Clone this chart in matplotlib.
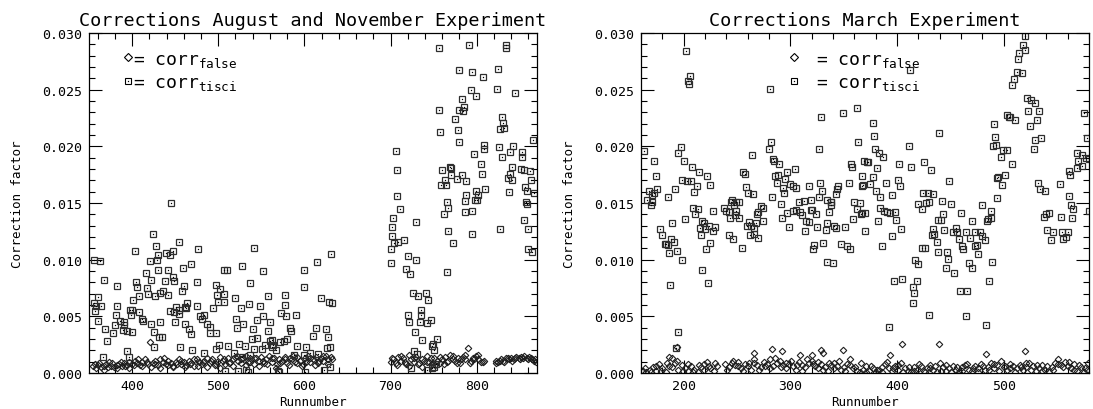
import numpy as np
import matplotlib
matplotlib.use('Agg')
from matplotlib import pyplot as plt
from matplotlib.ticker import MultipleLocator, FormatStrFormatter

plt.rcParams['font.family'] = ['DejaVu Sans Mono', 'DejaVu Sans']

# every row: (runnumber, correction factor in units of 1e-4)
aug_tisci = np.array([
    (445, 150), (424, 123), (428, 112), (454, 116), (403, 108), (430, 104), (421, 99), (429, 100), (439, 106),
    (447, 108), (444, 104), (477, 109), (542, 110), (356, 100), (363, 99), (459, 93), (469, 96), (430, 91),
    (442, 91), (507, 91), (510, 91), (528, 94), (552, 90), (367, 82), (383, 77), (405, 80), (406, 76), (416, 88),
    (422, 82), (438, 81), (448, 85), (449, 81), (460, 77), (475, 80), (537, 79), (498, 78), (417, 75), (401, 64),
    (408, 68), (418, 70), (427, 68), (433, 71), (436, 72), (442, 69), (458, 72), (499, 69), (502, 74), (507, 70),
    (500, 63), (507, 63), (519, 66), (558, 68), (578, 69), (356, 62), (360, 67), (358, 59), (364, 59), (357, 55),
    (360, 46), (383, 59), (398, 56), (399, 51), (381, 51), (386, 46), (391, 45), (391, 42), (380, 42), (378, 35),
    (369, 39), (371, 28), (389, 38), (394, 37), (400, 36), (400, 56), (408, 54), (412, 48), (413, 46), (422, 43),
    (425, 36), (431, 32), (435, 32), (432, 45), (425, 23), (444, 55), (451, 58), (454, 56), (454, 52), (449, 54),
    (450, 45), (461, 58), (461, 43), (466, 39), (469, 34), (456, 23), (464, 62), (463, 57), (475, 59), (479, 50),
    (481, 48), (483, 51), (487, 43), (490, 41), (491, 35), (497, 35), (494, 57), (470, 20), (483, 18), (498, 21),
    (501, 25), (511, 24), (521, 48), (522, 40), (529, 43), (526, 57), (536, 61), (540, 39), (545, 47), (552, 50),
    (549, 59), (560, 45), (558, 37), (524, 26), (531, 24), (539, 30), (541, 21), (545, 31), (551, 21), (554, 25),
    (560, 28), (562, 29), (564, 25), (562, 23), (573, 53), (577, 60), (579, 50), (590, 51), (583, 40), (585, 37),
    (567, 20), (572, 27), (576, 28), (580, 30), (591, 24), (588, 16), (528, 14), (537, 16), (518, 18), (366, 14),
    (394, 19), (396, 14), (600, 91), (600, 76), (615, 98), (631, 105), (619, 66), (629, 63), (632, 62), (613, 40),
    (610, 33), (625, 39), (628, 32), (630, 23), (626, 22), (602, 23), (623, 3), (630, 5), (601, 1), (606, 18),
    (616, 17), (599, 16), (508, 2), (523, 2), (532, 3), (535, 1), (569, 2), (571, 1),
    (756, 287), (791, 289), (834, 287), (834, 289), (779, 267), (794, 266), (807, 261), (825, 268), (793, 250),
    (799, 244), (824, 251), (783, 242), (785, 235), (780, 232), (784, 231), (756, 232), (775, 224), (758, 213),
    (778, 214), (780, 204), (829, 226), (831, 221), (832, 216), (827, 215), (706, 196), (707, 179), (809, 201),
    (808, 198), (826, 199), (842, 200), (797, 193), (829, 191), (839, 195), (805, 184), (806, 176), (760, 179),
    (769, 182), (770, 181), (770, 175), (763, 170), (759, 166), (764, 166), (777, 171), (783, 175), (788, 169),
    (841, 182), (839, 176), (836, 172), (841, 170), (838, 160), (810, 162), (799, 161), (788, 157), (802, 157),
    (800, 153), (798, 153), (787, 152), (766, 151), (767, 146), (762, 140), (786, 142), (795, 143), (708, 156),
    (711, 145), (703, 137), (702, 129), (729, 133), (702, 121), (704, 115), (709, 116), (716, 117), (701, 109),
    (700, 97), (767, 125), (795, 123), (827, 127), (772, 115), (720, 103), (730, 100), (718, 92), (723, 87),
    (765, 89), (726, 71), (732, 68), (741, 71), (744, 64), (735, 56), (735, 51), (720, 51), (722, 45), (734, 45),
    (742, 44), (747, 47), (728, 36), (737, 29), (754, 30), (749, 26), (748, 24), (724, 4), (742, 3), (748, 4),
    (751, 5), (727, 19), (731, 17), (750, 20), (753, 8),
    (845, 247), (865, 206), (853, 195), (853, 191), (851, 180), (855, 179), (862, 178), (863, 170), (856, 164),
    (858, 161), (866, 159), (857, 151), (858, 149), (855, 135), (859, 127), (860, 109), (864, 107),
])

aug_false = np.array([
    (355, 6), (358, 4), (361, 7), (364, 5), (367, 3), (370, 8), (373, 10), (376, 6), (379, 5), (382, 7), (385, 8),
    (388, 6), (391, 9), (394, 7), (397, 10), (400, 8), (403, 11), (406, 9), (409, 7), (412, 10), (415, 12),
    (418, 8), (421, 27), (424, 9), (427, 11), (430, 7), (433, 12), (436, 10), (439, 8), (442, 11), (445, 9),
    (448, 6), (451, 10), (454, 12), (457, 8), (460, 10), (463, 7), (466, 11), (469, 9), (472, 6), (475, 12),
    (478, 10), (481, 8), (484, 11), (487, 13), (490, 9), (493, 12), (496, 7), (499, 10), (502, 14), (505, 11),
    (508, 8), (511, 13), (514, 10), (517, 12), (520, 14), (523, 11), (526, 9), (529, 13), (532, 15), (535, 10),
    (538, 12), (541, 8), (544, 13), (547, 11), (550, 14), (553, 9), (556, 12), (559, 15), (562, 10), (565, 13),
    (568, 8), (571, 12), (574, 11), (577, 14), (580, 9), (583, 13), (586, 12), (589, 10), (592, 14), (595, 11),
    (598, 8), (601, 13), (604, 15), (607, 10), (610, 12), (613, 14), (616, 9), (619, 13), (622, 11), (625, 15),
    (628, 12), (631, 14),
    (357, 8), (362, 9), (367, 6), (372, 5), (377, 9), (382, 4), (387, 10), (392, 6), (397, 4), (402, 7), (407, 12),
    (412, 6), (417, 10), (422, 5), (427, 8), (432, 4), (437, 13), (442, 7), (447, 5), (452, 8), (457, 11),
    (462, 5), (467, 8), (472, 12), (477, 6), (482, 10), (487, 5), (492, 11), (497, 8), (502, 4), (507, 12),
    (512, 9), (517, 6), (522, 15), (527, 12), (532, 7), (537, 10), (542, 13), (547, 6), (552, 11), (557, 8),
    (562, 13), (567, 4), (572, 9), (577, 12), (582, 7), (587, 15), (592, 9), (597, 6), (602, 10), (607, 13),
    (612, 7), (617, 11), (622, 15), (627, 8), (632, 12),
    (700, 10), (703, 12), (706, 9), (709, 14), (712, 11), (715, 13), (718, 8), (721, 16), (724, 12), (727, 10),
    (730, 14), (733, 9), (736, 12), (739, 11), (742, 15), (745, 10), (748, 8), (751, 13), (754, 11), (757, 9),
    (760, 12), (763, 14), (766, 10), (769, 16), (772, 12), (775, 11), (778, 13), (781, 9), (784, 14), (787, 12),
    (790, 22), (793, 11), (796, 13), (799, 15), (802, 12), (805, 10), (808, 11),
    (702, 13), (707, 7), (712, 15), (717, 10), (722, 6), (727, 13), (732, 8), (737, 5), (742, 10), (747, 13),
    (752, 7), (757, 14), (762, 8), (767, 11), (772, 15), (777, 9), (782, 12), (787, 16), (792, 9), (797, 12),
    (802, 16), (807, 10),
    (822, 11), (825, 10), (828, 12), (831, 11), (834, 13), (837, 12), (840, 13), (843, 12), (846, 14), (849, 13),
    (852, 14), (855, 15), (858, 13), (861, 14), (864, 12), (867, 11), (869, 10), (823, 9), (827, 11), (832, 10),
    (836, 13), (841, 11), (845, 13), (850, 12), (854, 13), (859, 12), (863, 13), (868, 12),
])

mar_tisci = np.array([
    (202, 284), (206, 262), (204, 258), (205, 255), (281, 251), (329, 226), (349, 229), (362, 234), (363, 204),
    (282, 204), (280, 198), (327, 198), (163, 196), (197, 199), (195, 194), (200, 187), (172, 187), (174, 174),
    (264, 192), (284, 189), (285, 187), (289, 184), (357, 184), (358, 182), (369, 187), (208, 182), (214, 177),
    (222, 174), (225, 166), (256, 177), (257, 176), (304, 180), (297, 177), (288, 175), (286, 174), (295, 171),
    (287, 168), (300, 167), (302, 165), (305, 163), (293, 163), (294, 159), (198, 170), (203, 169), (207, 169),
    (212, 165), (210, 160), (192, 162), (175, 162), (167, 161), (172, 159), (170, 157), (166, 153), (170, 151),
    (169, 148), (185, 155), (258, 164), (260, 159), (265, 158), (317, 165), (328, 168), (330, 161), (327, 155),
    (319, 153), (313, 152), (308, 151), (345, 165), (344, 162), (343, 158), (355, 168), (367, 165), (334, 153),
    (338, 151), (360, 151), (365, 150), (362, 145), (366, 140), (359, 136), (283, 155), (291, 149), (272, 147),
    (274, 146), (270, 142), (269, 140), (274, 134), (268, 132), (266, 128), (263, 130), (261, 133), (259, 130),
    (262, 122), (266, 123), (270, 119), (255, 110), (242, 122), (246, 118), (238, 146), (240, 143), (242, 142),
    (245, 153), (244, 151), (247, 148), (249, 151), (252, 151), (249, 143), (243, 137), (248, 139), (252, 137),
    (227, 143), (209, 146), (213, 145), (211, 140), (201, 136), (217, 134), (219, 132), (215, 128), (220, 127),
    (224, 130), (229, 129), (227, 125), (216, 122), (225, 115), (221, 109), (198, 100), (194, 108), (191, 116),
    (186, 106), (188, 118), (180, 122), (183, 114), (182, 114), (185, 113), (178, 127), (189, 132), (217, 91),
    (187, 78), (223, 79), (195, 36), (193, 22), (314, 125), (321, 109), (322, 113), (331, 115), (334, 98),
    (340, 97), (347, 114), (353, 112), (356, 109), (341, 130), (343, 128), (351, 129), (333, 126), (334, 132),
    (325, 129), (309, 142), (311, 139), (315, 134), (317, 133), (299, 129), (292, 137), (297, 141), (302, 143),
    (305, 144), (319, 144), (320, 144), (324, 140), (336, 142), (338, 148), (338, 151),
    (520, 297), (518, 289), (520, 285), (514, 282), (513, 277), (512, 266), (517, 265), (510, 259), (508, 254),
    (412, 267), (522, 243), (526, 241), (529, 238), (523, 231), (533, 231), (503, 228), (505, 226), (506, 226),
    (511, 223), (531, 223), (525, 218), (575, 229), (491, 220), (492, 208), (490, 200), (493, 201), (529, 206),
    (535, 207), (528, 198), (578, 207), (499, 197), (503, 197), (497, 191), (508, 184), (494, 172), (495, 173),
    (501, 175), (498, 166), (494, 154), (532, 168), (534, 162), (539, 161), (553, 167), (561, 156), (569, 194),
    (573, 192), (577, 190), (570, 187), (580, 189), (573, 183), (569, 181), (562, 175), (561, 178), (563, 148),
    (565, 145), (564, 137), (580, 143), (538, 138), (540, 140), (542, 141), (554, 138), (541, 126), (546, 124),
    (544, 117), (555, 124), (558, 120), (560, 124), (556, 118), (439, 212), (411, 200), (402, 184), (413, 182),
    (425, 186), (432, 179), (449, 169), (377, 221), (378, 209), (379, 198), (383, 194), (387, 191), (372, 186),
    (373, 186), (381, 181), (367, 174), (377, 173), (375, 167), (368, 166), (390, 168), (380, 161), (384, 155),
    (401, 170), (403, 165), (395, 157), (384, 146), (388, 143), (391, 142), (393, 141), (398, 142), (399, 135),
    (382, 134), (370, 141), (367, 141), (370, 125), (395, 121), (404, 127), (386, 112), (424, 159), (429, 159),
    (434, 158), (420, 149), (423, 145), (430, 151), (427, 150), (442, 152), (451, 149), (443, 140), (438, 135),
    (441, 135), (460, 141), (434, 127), (435, 123), (433, 122), (444, 126), (437, 116), (455, 128), (452, 124),
    (456, 124), (458, 118), (461, 112), (462, 109), (470, 134), (465, 124), (468, 119), (473, 124), (478, 124),
    (480, 121), (482, 117), (475, 113), (473, 112), (476, 105), (484, 134), (485, 136), (488, 143), (488, 137),
    (480, 148), (423, 110), (426, 110), (417, 100), (420, 96), (438, 107), (447, 107), (448, 101), (446, 93),
    (453, 88), (467, 97), (470, 93), (489, 98), (397, 81), (405, 83), (419, 81), (415, 76), (416, 71), (415, 62),
    (466, 72), (486, 81), (459, 72), (430, 51), (465, 50), (392, 41), (483, 42),
])

mar_false = np.array([
    (162, 2), (165, 1), (168, 3), (171, 5), (174, 2), (177, 8), (180, 4), (183, 1), (186, 6), (189, 13), (192, 9),
    (195, 3), (198, 7), (201, 4), (204, 2), (207, 6), (210, 3), (213, 1), (216, 5), (219, 8), (222, 10), (225, 4),
    (228, 2), (231, 6),
    (239, 8), (242, 5), (245, 9), (248, 7), (251, 10), (254, 4), (257, 8), (260, 6), (263, 3), (266, 9), (269, 7),
    (272, 5), (275, 10), (278, 8), (281, 12), (284, 6), (287, 9), (290, 11), (293, 7), (296, 4), (299, 8),
    (302, 6), (305, 3), (308, 10), (311, 7), (314, 5), (317, 9), (320, 11), (323, 6), (326, 4), (329, 8),
    (332, 5), (335, 2), (338, 7), (341, 9), (344, 6), (347, 3), (350, 5), (353, 8), (356, 12), (359, 4), (362, 2),
    (365, 1), (368, 3), (371, 6), (374, 2), (377, 4), (380, 1), (383, 3), (386, 5), (389, 8), (392, 4), (395, 2),
    (398, 6), (401, 3), (404, 9), (407, 4), (410, 2), (413, 1), (416, 5), (419, 3), (422, 6), (425, 2), (428, 4),
    (431, 7), (434, 3), (437, 1), (440, 9), (443, 5), (446, 2), (449, 4), (452, 6), (455, 3), (458, 1), (461, 5),
    (464, 7), (467, 3), (470, 2), (473, 6), (476, 4), (479, 8), (482, 3), (485, 5), (488, 9), (491, 4), (494, 7),
    (497, 11), (500, 5), (503, 3), (506, 8), (509, 6), (512, 4), (515, 7), (518, 3), (521, 5), (524, 9), (527, 6),
    (530, 2), (533, 4), (536, 7), (539, 3), (542, 1), (545, 5), (548, 9), (551, 12), (554, 7), (557, 10),
    (560, 6), (563, 4), (566, 8), (569, 2), (572, 5), (575, 1), (578, 3),
    (194, 23), (266, 18), (283, 21), (292, 19), (329, 20), (331, 18), (349, 20), (405, 26), (439, 26), (393, 16),
    (483, 17), (520, 19), (309, 16), (320, 16), (186, 14),
    (164, 4), (169, 1), (174, 6), (179, 2), (184, 9), (189, 5), (194, 11), (199, 2), (204, 8), (209, 1), (214, 7),
    (219, 3), (224, 6), (229, 9), (241, 3), (246, 11), (251, 6), (256, 2), (261, 9), (266, 12), (271, 3),
    (276, 6), (281, 4), (286, 13), (291, 5), (296, 9), (301, 11), (306, 7), (311, 2), (316, 12), (321, 8),
    (326, 10), (331, 3), (336, 9), (341, 4), (346, 11), (351, 2), (356, 7), (361, 5), (366, 9), (371, 1),
    (376, 6), (381, 3), (386, 1), (391, 10), (396, 4), (401, 7), (406, 1), (411, 5), (416, 2), (421, 8),
    (426, 1), (431, 4), (436, 6), (441, 2), (446, 7), (451, 1), (456, 5), (461, 2), (466, 8), (471, 4), (476, 1),
    (481, 6), (486, 3), (491, 8), (496, 2), (501, 6), (506, 4), (511, 1), (516, 5), (521, 9), (526, 3), (531, 7),
    (536, 2), (541, 6), (546, 3), (551, 8), (556, 5), (561, 10), (566, 3), (571, 7), (576, 4), (579, 9),
])

titles = ['Corrections August and November Experiment', 'Corrections March Experiment']
x_ranges = [(350, 870), (160, 580)]
UNIT = 1e-4

SQ_EDGE = '#2e2e2e'
DIA_EDGE = '#1e1e1e'


def draw_panel(ax, tisci, false, title, xr, leg_marker_x, leg_text_x):
    ax.plot(false[:, 0], false[:, 1] * UNIT, ls='none', marker='D', ms=3.3,
            mfc='none', mec=DIA_EDGE, mew=0.8)
    ax.plot(tisci[:, 0], tisci[:, 1] * UNIT, ls='none', marker='s', ms=4.6,
            mfc='none', mec=SQ_EDGE, mew=0.9)
    ax.plot(tisci[:, 0], tisci[:, 1] * UNIT, ls='none', marker='s', ms=0.9,
            mfc='k', mec='k', mew=0)

    ax.set_xlim(*xr)
    ax.set_ylim(0, 0.03)
    ax.xaxis.set_major_locator(MultipleLocator(100))
    ax.xaxis.set_minor_locator(MultipleLocator(20))
    ax.yaxis.set_major_locator(MultipleLocator(0.005))
    ax.yaxis.set_minor_locator(MultipleLocator(0.001))
    ax.yaxis.set_major_formatter(FormatStrFormatter('%.3f'))
    ax.tick_params(which='both', direction='in', top=True, right=True, width=0.8, colors='k')
    ax.tick_params(which='major', length=9.5, labelsize=9.5)
    ax.tick_params(axis='x', which='major', pad=4)
    ax.tick_params(axis='y', which='major', pad=5)
    ax.tick_params(which='minor', length=4.3)
    for sp in ax.spines.values():
        sp.set_linewidth(0.9)

    ax.set_title(title, fontsize=13.3, pad=6)
    ax.set_xlabel('Runnumber', fontsize=9)
    ax.xaxis.set_label_coords(0.5, -0.064)
    ax.set_ylabel('Correction factor', fontsize=9)
    ax.yaxis.set_label_coords(-0.145, 0.5)

    # hand made legend
    for ypos, mk, ms, sub in [(0.928, 'D', 3.6, 'false'), (0.86, 's', 4.6, 'tisci')]:
        ax.plot([leg_marker_x], [ypos], ls='none', marker=mk, ms=ms, mfc='none', mec='k',
                mew=0.8, transform=ax.transAxes, clip_on=False)
        if mk == 's':
            ax.plot([leg_marker_x], [ypos], ls='none', marker='s', ms=0.9, mfc='k', mew=0,
                    transform=ax.transAxes, clip_on=False)
        ax.text(leg_text_x, ypos - 0.018, '= corr$_{\\mathregular{' + sub + '}}$',
                transform=ax.transAxes, fontsize=13, va='baseline', ha='left')


fig = plt.figure(figsize=(10.93, 4.10), dpi=100)
ax1 = fig.add_axes([0.0814, 0.0878, 0.4099, 0.8293])
ax2 = fig.add_axes([0.5865, 0.0878, 0.4099, 0.8293])

draw_panel(ax1, aug_tisci, aug_false, titles[0], x_ranges[0], 0.088, 0.099)
draw_panel(ax2, mar_tisci, mar_false, titles[1], x_ranges[1], 0.342, 0.391)

fig.savefig('out.png', dpi=100)
